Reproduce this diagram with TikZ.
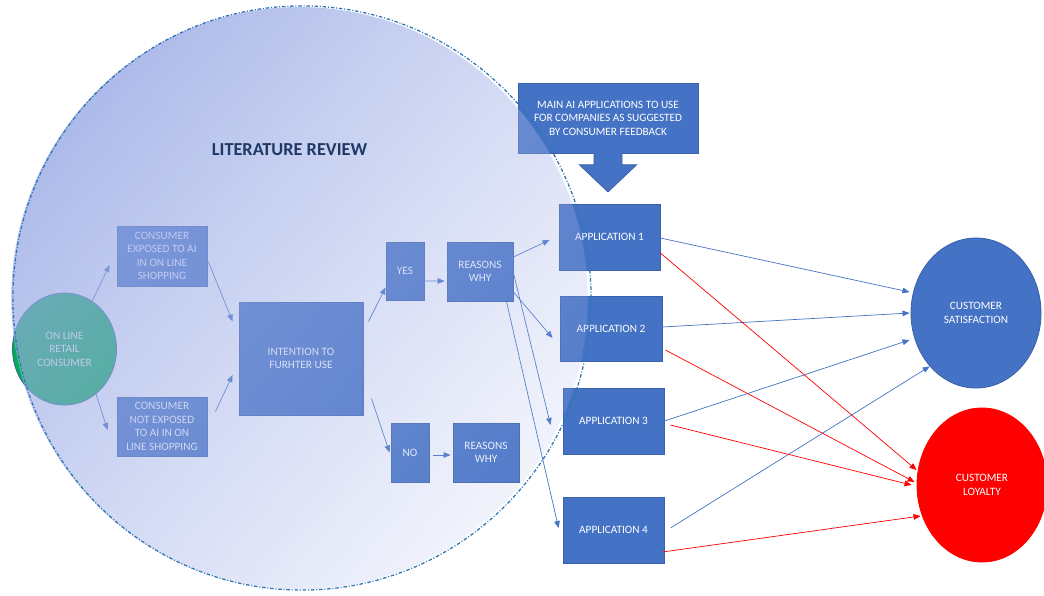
\documentclass[tikz,border=0pt]{standalone}
\usepackage{fontspec}
\setmainfont{Carlito}
\usetikzlibrary{arrows.meta,shapes.geometric,fadings}
\definecolor{azul}{HTML}{4472C4}
\definecolor{azulborde}{HTML}{3A62AA}
\definecolor{verde}{HTML}{00B050}
\definecolor{lavanda}{RGB}{150,167,228}
\definecolor{bordecirc}{HTML}{2E75B6}
\definecolor{titulo}{HTML}{1F3864}
\tikzfading[name=revfade, left color=transparent!22, right color=transparent!85]

\begin{document}
\begin{tikzpicture}[x=0.025cm, y=-0.025cm,
    caja/.style={draw=azulborde, line width=0.6pt, fill=azul, text=white, align=center, inner sep=1pt, font=\fontsize{8}{9.6}\selectfont},
    flecha/.style={draw=azul, line width=0.5pt, -{Triangle[length=5pt,width=4pt]}},
    roja/.style={draw=red, line width=0.5pt, -{Triangle[length=5pt,width=4pt]}}]
    \useasboundingbox (0,0) rectangle (1044,595);
    % Consumidor y cajas de la revision
    \node[caja, ellipse, fill=verde, draw=azulborde, minimum width=2.6cm, minimum height=2.8cm] (cons) at (64.5,349) {ON LINE\\RETAIL\\CONSUMER};
    \node[caja, minimum width=2.25cm, minimum height=1.5cm] (exp) at (162,256) {CONSUMER\\EXPOSED TO AI\\IN ON LINE\\SHOPPING};
    \node[caja, minimum width=2.25cm, minimum height=1.475cm] (nexp) at (162,426.5) {CONSUMER\\NOT EXPOSED\\TO AI IN ON\\LINE SHOPPING};
    \node[caja, minimum width=3.1cm, minimum height=2.825cm] (int) at (301,358.5) {INTENTION TO\\FURHTER USE};
    \node[caja, minimum width=0.95cm, minimum height=1.45cm] (yes) at (405,271) {YES};
    \node[caja, minimum width=1.65cm, minimum height=1.475cm] (rw1) at (480,271.5) {REASONS\\WHY};
    \node[caja, minimum width=0.95cm, minimum height=1.475cm] (no) at (410,452.5) {NO};
    \node[caja, minimum width=1.65cm, minimum height=1.475cm] (rw2) at (486,452.5) {REASONS\\WHY};
    % Aplicaciones
    \node[caja, minimum width=4.5cm, minimum height=1.75cm] (main) at (608,118) {MAIN AI APPLICATIONS TO USE\\FOR COMPANIES AS SUGGESTED\\BY CONSUMER FEEDBACK};
    \draw[azulborde, line width=0.6pt, fill=azul] ([xshift=-0.35cm, yshift=0.4pt]main.south) -- ++(0,-0.3cm) -- ++(-0.3625cm,0) -- ++(0.7125cm,-0.675cm) -- ++(0.7125cm,0.675cm) -- ++(-0.3625cm,0) -- ++(0,0.3cm);
    \node[caja, minimum width=2.525cm, minimum height=1.65cm] (app1) at (609.5,237) {APPLICATION 1};
    \node[caja, minimum width=2.55cm, minimum height=1.625cm] (app2) at (611,328.5) {APPLICATION 2};
    \node[caja, minimum width=2.525cm, minimum height=1.65cm] (app3) at (613.5,421) {APPLICATION 3};
    \node[caja, minimum width=2.525cm, minimum height=1.65cm] (app4) at (613.5,530) {APPLICATION 4};
    % Flechas
    \draw[flecha] (cons.60) -- ([shift={(-7,9)}]exp.west);
    \draw[flecha] (cons.-55) -- ([shift={(-9,3.5)}]nexp.west);
    \draw[flecha] ([shift={(1,6)}]exp.east) -- ([shift={(-6,20)}]int.north west);
    \draw[flecha] ([shift={(8,15)}]nexp.north east) -- ([shift={(-6,16.5)}]int.west);
    \draw[flecha] ([shift={(5,20)}]int.north east) -- ([shift={(0,-13)}]yes.south west);
    \draw[flecha] ([shift={(8,-17)}]int.south east) -- ([shift={(-1,0)}]no.west);
    \draw[flecha] ([shift={(1,10)}]yes.east) -- ([shift={(-2,9.5)}]rw1.west);
    \draw[flecha] ([shift={(4,2.5)}]no.east) -- ([shift={(-2,2.5)}]rw2.west);
    \draw[flecha] ([shift={(0,-14.5)}]rw1.east) -- ([shift={(-9,3)}]app1.west);
    \draw[flecha] ([shift={(0,20.5)}]rw1.east) -- ([shift={(-7,9.5)}]app2.west);
    \draw[flecha] ([shift={(0,1.5)}]rw1.east) -- ([shift={(-12,4)}]app3.west);
    \draw[flecha] ([shift={(-7,0)}]rw1.south east) -- ([shift={(-4,-2)}]app4.west);
    % Circulo de la revision de literatura
    \shade[top color=lavanda, bottom color=lavanda!85!white, shading angle=45, path fading=revfade, fading angle=-40] (302,298) ellipse [x radius=7.225cm, y radius=7.3cm];
    \draw[bordecirc, line width=0.9pt, dash pattern=on 2.5pt off 1.3pt on 0.7pt off 1.3pt] (302,298) ellipse [x radius=7.225cm, y radius=7.3cm];
    \node[text=titulo, font=\fontsize{13}{15}\selectfont\bfseries] (lit) at (289.5,150) {LITERATURE REVIEW};
    % Satisfaccion y lealtad
    \node[caja, ellipse, minimum width=3.25cm, minimum height=3.75cm] (sat) at (976,313) {CUSTOMER\\SATISFACTION};
    \node[caja, ellipse, fill=red, draw=red, minimum width=3.25cm, minimum height=3.85cm] (loy) at (982,485) {CUSTOMER\\LOYALTY};
    \draw[flecha] ([shift={(0,1)}]app1.east) -- ([shift={(-1,-21)}]sat.west);
    \draw[flecha] ([shift={(0,-1.5)}]app2.east) -- ([shift={(-1,0)}]sat.west);
    \draw[flecha] (app3.east) -- ([shift={(-1,27)}]sat.west);
    \draw[flecha] ([shift={(6,-2)}]app4.east) -- (sat.south west);
    \draw[roja] ([shift={(0,16)}]app1.east) -- ([shift={(0,-15)}]loy.west);
    \draw[roja] ([shift={(3,21.5)}]app2.east) -- ([shift={(-2,-3)}]loy.west);
    \draw[roja] ([shift={(6,4)}]app3.east) -- ([shift={(-5,0)}]loy.west);
    \draw[roja] ([shift={(-2,22)}]app4.east) -- ([shift={(4,31)}]loy.west);
\end{tikzpicture}
\end{document}
